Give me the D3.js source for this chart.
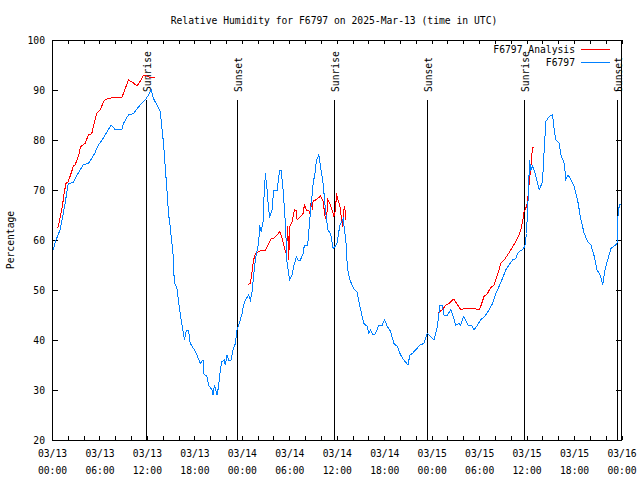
<!DOCTYPE html>
<html>
<head>
<meta charset="utf-8">
<script src="https://cdn.jsdelivr.net/npm/d3@7"></script>
<style>
  html, body { margin: 0; padding: 0; background: #fff; }
  svg { display: block; }
  text { font-family: "DejaVu Sans Mono", "Liberation Mono", monospace; font-size: 9.7px; fill: #000; }
</style>
</head>
<body>
<svg id="chart" width="640" height="480"></svg>
<script>
// ---------------- data ----------------
const chartTitle = "Relative Humidity for F6797 on 2025-Mar-13 (time in UTC)";
const yLabel = "Percentage";
const startDateUTC = [2025, 2, 13]; // 2025-03-13 00:00 UTC
const spanHours = 72;
const yTicks = [20, 30, 40, 50, 60, 70, 80, 90, 100];
const seriesNames = ["F6797 Analysis", "F6797"];

// hours since 03/13 00:00 UTC
const obsHours = [0.13,0.51,1.01,1.27,1.65,2.06,2.70,3.17,3.55,3.96,4.60,5.03,5.45,5.86,6.33,6.71,7.09,7.47,7.98,8.83,9.03,9.66,10.30,10.73,11.14,11.78,12.20,12.54,12.83,13.26,13.68,14.10,14.53,14.73,14.94,15.16,15.36,15.45,15.79,16.00,16.21,16.43,16.63,16.75,16.97,17.26,17.48,17.90,18.33,18.74,19.09,19.16,19.59,19.79,20.23,20.35,20.55,20.86,21.06,21.28,21.49,21.78,21.91,22.13,22.33,22.63,22.89,23.18,23.39,23.59,23.81,24.03,24.23,24.44,24.86,25.08,25.29,25.58,25.84,26.13,26.25,26.43,26.68,26.76,26.98,27.19,27.39,27.52,27.82,28.03,28.46,28.79,28.96,29.22,29.51,29.72,30.05,30.36,30.56,30.90,31.12,31.41,31.75,31.91,32.33,32.59,32.80,33.02,33.31,33.43,33.73,33.94,34.28,34.57,34.87,35.21,35.55,35.71,36.06,36.39,36.82,36.98,37.20,37.23,37.45,37.74,38.16,38.59,38.79,39.22,39.43,39.86,40.06,40.27,40.62,40.91,41.32,41.75,42.05,42.39,42.81,43.22,43.66,44.07,44.49,45.00,45.25,45.55,45.97,46.52,47.02,47.45,47.66,47.87,48.29,48.72,49.05,49.35,49.56,49.99,50.41,50.62,51.04,51.46,51.67,52.01,52.30,52.59,53.03,53.36,53.79,54.20,54.84,55.26,55.69,56.10,56.52,56.95,57.37,57.79,58.22,58.64,58.93,59.49,59.78,59.99,60.12,60.25,60.37,60.54,60.75,60.96,61.17,61.39,61.59,61.80,62.02,62.22,62.44,62.85,63.28,63.49,63.70,64.12,64.34,64.76,64.97,65.26,65.60,66.02,66.45,66.87,67.29,67.72,68.14,68.56,68.90,69.31,69.62,69.91,70.25,70.67,71.09,71.43,71.59,71.85];
const obsValues = [58,60,62,64,67.3,71.3,71.5,73,74,75.1,75.3,76.3,77.5,79,80,81,82,83,82.1,82.1,83.3,85,85.3,86.2,87,88,89,90.1,88.3,87,85.7,79.3,70,65.3,62.7,59.3,56.3,51.7,50.3,47.7,45.3,43,41.3,40,41.9,41.9,39.3,38.3,37,35.3,36,33.3,32.7,31,30,29,31,29,30.7,34,35.7,36,35,37,36,36,38,39.3,42,43,44,45.3,47,48,49,48,49.7,54.3,57.3,59.3,63,61.7,63.7,67.3,73.3,70,66,64.7,66,70,70,74,74,70,63.3,55.3,52,53,54.7,56.7,56,56,57.3,59,59,64,67.7,71.3,74,76,77,74.7,71.3,66,62,61.3,58.3,58.5,59.5,63,64.3,62,59,57,53.3,51.7,50.3,49.5,47.7,44.7,43.3,42.7,41.3,42,41,41.3,43,43,44,42.7,41.7,39.3,38.7,37,36,35,37,37.3,38,39,39.3,41.3,41,40.7,40,42.7,47,47,45,45,46,45.3,43,43.3,43,44.7,44,43,43,42,43,44,45,46,47.3,49.3,50.7,52.3,54,55,56,56.3,57.5,58.1,58.7,61.3,66,70,76,74,74.7,74,72.7,71.3,70.1,70.8,71.7,78,83.7,84.7,85,82,80.1,79.3,77,75.3,72.1,73,72.1,70.7,68,64,61.3,59.7,59,56.7,54,53,51,54,56,58.3,58.8,59.3,66,67.3];

// analysis series; null marks a gap
const anaHours = [0.63,0.80,1.10,1.36,1.52,1.77,2.06,2.49,2.70,2.91,3.33,3.63,4.18,4.60,5.03,5.23,5.66,6.08,6.59,7.13,7.69,8.83,9.12,9.66,10.22,10.73,11.14,11.56,11.99,12.41,13.04,
  18.0,
  24.73,25.08,25.29,25.49,25.71,26.13,26.56,26.98,27.39,27.70,28.03,28.46,28.79,29.09,29.29,29.51,29.64,29.80,29.93,30.05,30.36,30.65,30.90,30.99,31.41,31.75,31.91,32.17,32.46,32.67,32.76,32.93,33.02,33.31,33.60,33.94,34.28,34.49,34.70,34.87,35.12,35.42,35.63,35.84,35.97,36.14,36.39,36.56,36.73,36.89,37.02,37.11,
  42.0,
  48.80,49.35,49.77,50.19,50.62,50.82,51.16,51.67,52.30,53.15,53.99,54.20,54.62,55.05,55.47,55.89,56.32,56.74,57.16,57.59,58.00,58.64,59.06,59.27,59.49,59.69,59.99,60.12,60.25,60.54,60.75,60.96];
const anaValues = [62.4,62.7,65,67.3,69.3,71.3,71.7,73.7,74.8,75,76.7,78.7,79.3,81,81.3,82.7,85.3,86,87.9,88.3,88.5,88.5,89.7,92,91.5,90.8,91.7,92.9,92.8,92.5,92.5,
  null,
  51.1,51.3,53.7,56,57.3,57.7,58,58,59.3,60.3,60.3,61,61.7,60.3,59,57.7,57.3,62.7,56,62.7,63.7,66,65.9,64,64.7,65.3,67,66,66,65,67.7,66,68,68,68.3,68.8,67.7,65,64,68,67.3,66,64.7,66,69.3,68,67,64.7,62.7,66,66.7,64,
  null,
  45.5,46,47,47.3,48,48.1,47.3,46.1,46.3,46.3,46.1,46.7,48.7,49.3,50.5,51,53,55.3,56,57,58,59.7,61,62,63.7,65.7,66.7,67.7,70,74.7,78.5,78.5];

const sunHours = [11.88, 23.45, 35.71, 47.47, 59.73, 71.49];
const sunLabels = ["Sunrise", "Sunset", "Sunrise", "Sunset", "Sunrise", "Sunset"];

const colors = { analysis: "#ff0000", obs: "#0080ff" };

// ---------------- chart ----------------
const svg = d3.select("#chart");
const L = 52, R = 621.5, T = 40, B = 440;
const base = Date.UTC(...startDateUTC);
const toDate = h => new Date(base + h * 3600e3);

const x = d3.scaleUtc().domain([toDate(0), toDate(spanHours)]).range([L, R]);
const y = d3.scaleLinear().domain([20, 100]).range([B, T]);

// ticks (inward, mirrored)
const minorTicks = d3.utcHour.every(2).range(toDate(0), toDate(spanHours + 0.01));
const majorTicks = d3.utcHour.every(6).range(toDate(0), toDate(spanHours + 0.01));

svg.append("g").attr("transform", `translate(0,${B})`)
  .call(d3.axisBottom(x).tickValues(minorTicks).tickSize(-4).tickFormat(""))
  .call(g => g.select(".domain").remove());
svg.append("g").attr("transform", `translate(0,${T})`)
  .call(d3.axisTop(x).tickValues(minorTicks).tickSize(-4).tickFormat(""))
  .call(g => g.select(".domain").remove());

const fmtD = d3.utcFormat("%m/%d"), fmtT = d3.utcFormat("%H:%M");
const xl = svg.append("g").attr("transform", `translate(0,${B})`)
  .call(d3.axisBottom(x).tickValues(majorTicks).tickSize(0).tickFormat(""))
  .call(g => g.select(".domain").remove());
xl.selectAll(".tick text").remove();
xl.selectAll(".tick").each(function(d) {
  const t = d3.select(this).append("text").attr("text-anchor", "middle").attr("fill", "#000")
    .style("font-family", '"DejaVu Sans Mono", monospace').style("font-size", "9.7px");
  t.append("tspan").attr("x", 0).attr("y", 17).text(fmtD(d));
  t.append("tspan").attr("x", 0).attr("y", 34).text(fmtT(d));
});

svg.append("g").attr("transform", `translate(${L},0)`)
  .call(d3.axisLeft(y).tickValues(yTicks).tickSize(-6).tickPadding(7).tickFormat(d3.format("d")))
  .call(g => g.select(".domain").remove())
  .call(g => g.selectAll("text").attr("fill", "#000")
    .style("font-family", '"DejaVu Sans Mono", monospace').style("font-size", "9.7px"));
svg.append("g").attr("transform", `translate(${R},0)`)
  .call(d3.axisRight(y).tickValues(yTicks).tickSize(-6).tickFormat(""))
  .call(g => g.select(".domain").remove());
svg.selectAll(".tick line").attr("stroke", "#000").attr("shape-rendering", "crispEdges");

// sunrise / sunset markers
const sunTop = T + (B - T) * 0.15;
sunHours.forEach((h, i) => {
  const sx = Math.round(x(toDate(h))) + 0.5;
  svg.append("line").attr("x1", sx).attr("x2", sx).attr("y1", sunTop).attr("y2", B)
    .attr("stroke", "#000").attr("stroke-width", 1).attr("shape-rendering", "crispEdges");
  svg.append("text").attr("transform", `translate(${sx + 4},${sunTop - 8}) rotate(-90)`)
    .attr("text-anchor", "start").text(sunLabels[i]);
});

// series
const obsData = obsHours.map((h, i) => ({ t: toDate(h), v: obsValues[i] }));
const anaData = anaHours.map((h, i) => ({ t: toDate(h), v: anaValues[i] }));
const line = d3.line().defined(d => d.v != null).x(d => x(d.t)).y(d => y(d.v));

svg.append("path").datum(anaData).attr("d", line)
  .attr("fill", "none").attr("stroke", colors.analysis).attr("stroke-width", 1)
  .attr("shape-rendering", "crispEdges");
svg.append("path").datum(obsData).attr("d", line)
  .attr("fill", "none").attr("stroke", colors.obs).attr("stroke-width", 1)
  .attr("shape-rendering", "crispEdges");

// frame
svg.append("rect").attr("x", L + 0.5).attr("y", T + 0.5).attr("width", R - L - 0.5).attr("height", B - T)
  .attr("fill", "none").attr("stroke", "#000").attr("shape-rendering", "crispEdges");

// legend
const legColors = [colors.analysis, colors.obs];
seriesNames.forEach((name, i) => {
  const ly = 49.5 + i * 13;
  svg.append("text").attr("x", 575).attr("y", ly + 3.5).attr("text-anchor", "end").text(name);
  svg.append("line").attr("x1", 581).attr("x2", 610).attr("y1", ly).attr("y2", ly)
    .attr("stroke", legColors[i]).attr("stroke-width", 1).attr("shape-rendering", "crispEdges");
});

// title & axis label
svg.append("text").attr("x", 334).attr("y", 23.5).attr("text-anchor", "middle").text(chartTitle);
svg.append("text").attr("transform", "translate(14,240) rotate(-90)").attr("text-anchor", "middle").text(yLabel);
</script>
</body>
</html>
